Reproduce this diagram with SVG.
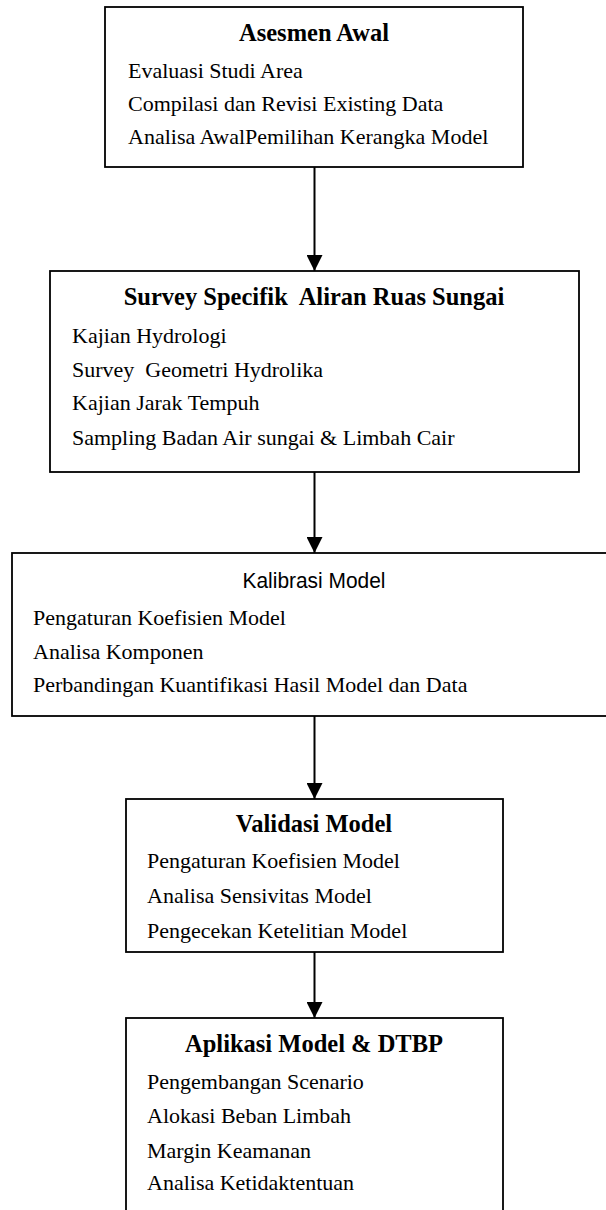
<svg xmlns="http://www.w3.org/2000/svg" width="606" height="1210" viewBox="0 0 606 1210">
<defs>
<marker id="ah" markerUnits="userSpaceOnUse" markerWidth="16" markerHeight="16" refX="16" refY="8" orient="auto" viewBox="0 0 16 16"><path d="M0,0 L16,8 L0,16 Z" fill="#000"/></marker>
</defs>
<style>
.box{fill:#fff;stroke:#000;stroke-width:1.8}
.t{font-family:"Liberation Serif","Times New Roman",serif;font-weight:bold;font-size:24.5px;text-anchor:middle;fill:#000}
.b{font-family:"Liberation Serif","Times New Roman",serif;font-size:22px;fill:#000}
.k{font-family:"Liberation Sans Narrow","Liberation Sans",sans-serif;font-size:22px;text-anchor:middle;fill:#000}
.c{stroke:#000;stroke-width:2;fill:none;marker-end:url(#ah)}
</style>
<rect width="606" height="1210" fill="#fff"/>
<g id="connectors">
<line class="c" x1="314.5" y1="167" x2="314.5" y2="271"/>
<line class="c" x1="314.5" y1="472" x2="314.5" y2="553"/>
<line class="c" x1="314.5" y1="716" x2="314.5" y2="799"/>
<line class="c" x1="314.5" y1="952" x2="314.5" y2="1018"/>
</g>
<g id="asesmen-awal">
<rect class="box" x="105" y="7" width="418" height="160"/>
<text class="t" x="314" y="41">Asesmen Awal</text>
<text class="b" x="128" y="78">Evaluasi Studi Area</text>
<text class="b" x="128" y="111">Compilasi dan Revisi Existing Data</text>
<text class="b" x="128" y="144">Analisa AwalPemilihan Kerangka Model</text>
</g>
<g id="survey-specifik">
<rect class="box" x="50" y="271" width="529" height="201"/>
<text class="t" x="314" y="305" xml:space="preserve">Survey Specifik  Aliran Ruas Sungai</text>
<text class="b" x="72" y="343">Kajian Hydrologi</text>
<text class="b" x="72" y="377" xml:space="preserve">Survey  Geometri Hydrolika</text>
<text class="b" x="72" y="410">Kajian Jarak Tempuh</text>
<text class="b" x="72" y="445">Sampling Badan Air sungai &amp; Limbah Cair</text>
</g>
<g id="kalibrasi-model">
<rect class="box" x="12" y="553" width="604" height="163"/>
<text class="k" x="314" y="588" textLength="143" lengthAdjust="spacingAndGlyphs">Kalibrasi Model</text>
<text class="b" x="33" y="625">Pengaturan Koefisien Model</text>
<text class="b" x="33" y="659">Analisa Komponen</text>
<text class="b" x="33" y="692">Perbandingan Kuantifikasi Hasil Model dan Data</text>
</g>
<g id="validasi-model">
<rect class="box" x="126" y="799" width="377" height="153"/>
<text class="t" x="314" y="832">Validasi Model</text>
<text class="b" x="147" y="868">Pengaturan Koefisien Model</text>
<text class="b" x="147" y="903">Analisa Sensivitas Model</text>
<text class="b" x="147" y="938">Pengecekan Ketelitian Model</text>
</g>
<g id="aplikasi-model">
<rect class="box" x="126" y="1018" width="377" height="210"/>
<text class="t" x="314" y="1052">Aplikasi Model &amp; DTBP</text>
<text class="b" x="147" y="1089">Pengembangan Scenario</text>
<text class="b" x="147" y="1123">Alokasi Beban Limbah</text>
<text class="b" x="147" y="1158">Margin Keamanan</text>
<text class="b" x="147" y="1190">Analisa Ketidaktentuan</text>
</g>
</svg>
